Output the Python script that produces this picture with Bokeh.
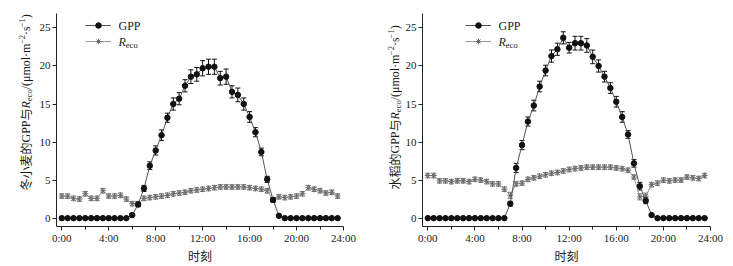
import math
from bokeh.plotting import figure
from bokeh.models import (ColumnDataSource, Whisker, TeeHead, FixedTicker, Range1d,
                          Legend, LegendItem, Label)
from bokeh.layouts import row
from bokeh.embed import file_html
from bokeh.resources import INLINE

# ---------------- data (half-hourly) ----------------
times = ["0:00", "0:30", "1:00", "1:30", "2:00", "2:30", "3:00", "3:30", "4:00", "4:30",
         "5:00", "5:30", "6:00", "6:30", "7:00", "7:30", "8:00", "8:30", "9:00", "9:30",
         "10:00", "10:30", "11:00", "11:30", "12:00", "12:30", "13:00", "13:30", "14:00", "14:30",
         "15:00", "15:30", "16:00", "16:30", "17:00", "17:30", "18:00", "18:30", "19:00", "19:30",
         "20:00", "20:30", "21:00", "21:30", "22:00", "22:30", "23:00", "23:30"]

wheat_gpp = [0, 0, 0, 0, 0, 0, 0, 0, 0, 0, 0, 0,
             0.4, 1.8, 3.9, 6.9, 8.9, 10.9, 13.2, 15.0, 15.7, 17.4, 18.6, 18.9, 19.7, 19.9,
             19.9, 18.4, 18.6, 16.6, 16.2, 15.0, 13.3, 11.3, 8.7, 5.1, 2.4, 0.3,
             0, 0, 0, 0, 0, 0, 0, 0, 0, 0]
wheat_gpp_err = [0, 0, 0, 0, 0, 0, 0, 0, 0, 0, 0, 0,
                 0.2, 0.3, 0.4, 0.5, 0.6, 0.7, 0.6, 0.8, 0.8, 0.8, 0.9, 0.9, 1.0, 1.0,
                 1.0, 0.9, 1.0, 0.8, 0.9, 0.8, 0.7, 0.6, 0.5, 0.4, 0.3, 0.1,
                 0, 0, 0, 0, 0, 0, 0, 0, 0, 0]
wheat_reco = [2.9, 2.9, 2.6, 2.5, 3.2, 2.6, 2.6, 3.6, 2.9, 2.9, 3.0, 2.5,
              1.9, 1.9, 2.6, 2.7, 2.8, 2.9, 3.0, 3.2, 3.3, 3.4, 3.6, 3.7, 3.8, 3.9,
              4.0, 4.1, 4.1, 4.1, 4.1, 4.1, 4.0, 3.9, 3.8, 3.6, 2.4, 2.8,
              2.7, 2.8, 2.9, 3.2, 4.0, 3.8, 3.6, 3.3, 3.4, 2.9]
wheat_reco_err = [0.3, 0.3, 0.3, 0.3, 0.3, 0.3, 0.3, 0.3, 0.3, 0.3, 0.3, 0.3,
                  0.3, 0.3, 0.3, 0.3, 0.3, 0.3, 0.3, 0.3, 0.3, 0.3, 0.3, 0.3, 0.3, 0.3,
                  0.3, 0.3, 0.3, 0.3, 0.3, 0.3, 0.3, 0.3, 0.3, 0.3, 0.3, 0.3,
                  0.3, 0.3, 0.3, 0.3, 0.3, 0.3, 0.3, 0.3, 0.3, 0.3]

rice_gpp = [0, 0, 0, 0, 0, 0, 0, 0, 0, 0, 0, 0, 0, 0,
            1.9, 6.6, 9.6, 12.7, 14.8, 17.3, 19.4, 21.3, 22.2, 23.7, 22.4, 23.0, 23.0,
            22.7, 21.2, 20.0, 18.6, 17.1, 15.3, 13.3, 11.0, 7.2, 4.2, 2.3, 0.4,
            0, 0, 0, 0, 0, 0, 0, 0, 0]
rice_gpp_err = [0, 0, 0, 0, 0, 0, 0, 0, 0, 0, 0, 0, 0, 0,
                0.3, 0.6, 0.6, 0.6, 0.7, 0.7, 0.7, 0.8, 0.8, 0.8, 0.7, 0.9, 0.9,
                0.9, 0.9, 0.8, 0.7, 0.7, 0.7, 0.7, 0.5, 0.5, 0.5, 0.4, 0.1,
                0, 0, 0, 0, 0, 0, 0, 0, 0]
rice_reco = [5.6, 5.6, 4.9, 4.9, 4.8, 4.9, 4.9, 4.8, 5.1, 5.0, 4.8, 4.5, 4.5, 3.8,
             3.0, 4.5, 4.6, 5.1, 5.3, 5.5, 5.7, 5.9, 6.0, 6.2, 6.4, 6.5, 6.6,
             6.7, 6.7, 6.7, 6.7, 6.7, 6.6, 6.5, 6.3, 5.4, 2.8, 2.9,
             4.4, 4.6, 5.0, 4.9, 5.0, 5.0, 5.4, 5.3, 5.2, 5.6]
rice_reco_err = [0.3, 0.3, 0.3, 0.3, 0.3, 0.3, 0.3, 0.3, 0.3, 0.3, 0.3, 0.3, 0.3, 0.3,
                 0.4, 0.3, 0.3, 0.3, 0.3, 0.3, 0.3, 0.3, 0.3, 0.3, 0.3, 0.3, 0.3,
                 0.3, 0.3, 0.3, 0.3, 0.3, 0.3, 0.3, 0.3, 0.3, 0.4, 0.4,
                 0.3, 0.3, 0.3, 0.3, 0.3, 0.3, 0.3, 0.3, 0.3, 0.3]

x_tick_hours = [0, 4, 8, 12, 16, 20, 24]
x_tick_labels = ["0:00", "4:00", "8:00", "12:00", "16:00", "20:00", "24:00"]
x_minor_hours = [2, 6, 10, 14, 18, 22]
y_ticks = [0, 5, 10, 15, 20, 25]

x_label = "时刻"
crop_names = ["冬小麦的", "水稻的"]

LATIN = "Liberation Serif"
CJK = "Noto Sans CJK SC"
TXT = "#1a1a1a"
H = 266

# Times / Liberation Serif advance widths (em)
W_REG = {"G": .722, "P": .556, "/": .278, "(": .333, ")": .333, "μ": .576, "m": .778,
         "o": .5, "l": .278, "·": .25, "s": .389, "e": .444, "c": .444, "−": .564,
         "2": .5, "1": .5, "R": .667}
W_IT = {"R": .611, "e": .444, "c": .444, "o": .5}


def text_width(txt, size, kind):
    if kind == "cjk":
        return len(txt) * size
    table = W_IT if kind == "i" else W_REG
    return sum(table.get(ch, .5) for ch in txt) * size


def to_hours(t):
    h, m = t.split(":")
    return int(h) + int(m) / 60.0


def rich_text(p, segments, x0, y0, vertical, main=12, small=8.5):
    """Place a string of mixed-style segments (screen units, relative to frame)."""
    cur = 0.0
    for txt, kind in segments:
        size = small if kind in ("sub", "sup") else main
        font = CJK if kind == "cjk" else LATIN
        style = "italic" if kind == "i" else "normal"
        wkind = "i" if kind == "i" else ("cjk" if kind == "cjk" else "n")
        shift = 0.0
        if kind == "sub":
            shift = -3.0
        elif kind == "sup":
            shift = 4.0
        if vertical:
            lx, ly, ang = x0 - shift, y0 + cur, math.pi / 2
        else:
            lx, ly, ang = x0 + cur, y0 + shift, 0
        p.add_layout(Label(x=lx, y=ly, x_units="screen", y_units="screen", text=txt,
                           angle=ang, text_font=font, text_font_size=f"{size}px",
                           text_font_style=style, text_align="left",
                           text_baseline="middle", text_color=TXT))
        cur += text_width(txt, size, wkind)


def label_strip(crop, width, xc, y_start):
    """Narrow canvas that carries the rotated y-axis title."""
    s = figure(width=width, height=H, output_backend="svg", toolbar_location=None,
               x_range=Range1d(0, 1), y_range=Range1d(0, 1), min_border=0,
               x_axis_type=None, y_axis_type=None)
    s.grid.visible = False
    s.outline_line_color = None
    rich_text(s, [(crop, "cjk"), ("GPP", "n"), ("与", "cjk"), ("R", "i"), ("eco", "sub"),
                  ("/(μmol·m", "n"), ("−2", "sup"), ("·s", "n"), ("−1", "sup"), (")", "n")],
              xc, y_start, True)
    return s


def make_panel(gpp, gpp_err, reco, reco_err, width, bl, br, leg_x):
    hrs = [to_hours(t) for t in times]
    p = figure(width=width, height=H, output_backend="svg", toolbar_location=None,
               x_range=Range1d(-0.45, 24.0), y_range=Range1d(-1.1, 26.9),
               min_border_left=bl, min_border_right=br, min_border_top=13,
               min_border_bottom=39)
    p.grid.visible = False
    p.outline_line_color = None
    p.background_fill_color = "white"

    src_r = ColumnDataSource(dict(x=hrs, y=reco,
                                  lo=[v - e for v, e in zip(reco, reco_err)],
                                  hi=[v + e for v, e in zip(reco, reco_err)]))
    keep = [i for i, e in enumerate(gpp_err) if e > 0]
    src_g = ColumnDataSource(dict(x=hrs, y=gpp))
    src_ge = ColumnDataSource(dict(x=[hrs[i] for i in keep],
                                   lo=[gpp[i] - gpp_err[i] for i in keep],
                                   hi=[gpp[i] + gpp_err[i] for i in keep]))

    # Reco
    r_line = p.line("x", "y", source=src_r, line_color="#9a9a9a", line_width=1)
    p.add_layout(Whisker(source=src_r, base="x", lower="lo", upper="hi",
                         line_color="#7a7a7a", line_width=1,
                         upper_head=TeeHead(size=5, line_color="#7a7a7a", line_width=1),
                         lower_head=TeeHead(size=5, line_color="#7a7a7a", line_width=1)))
    r_pts = p.scatter("x", "y", source=src_r, marker="asterisk", size=6,
                      line_color="#6a6a6a", line_width=1)

    # GPP
    g_line = p.line("x", "y", source=src_g, line_color="#555555", line_width=1)
    p.add_layout(Whisker(source=src_ge, base="x", lower="lo", upper="hi",
                         line_color="#111111", line_width=1,
                         upper_head=TeeHead(size=5, line_color="#111111", line_width=1),
                         lower_head=TeeHead(size=5, line_color="#111111", line_width=1)))
    g_pts = p.scatter("x", "y", source=src_g, marker="circle", size=5.5,
                      fill_color="#111111", line_color="#111111")

    # axes
    xa = p.xaxis[0]
    xa.ticker = FixedTicker(ticks=x_tick_hours, minor_ticks=x_minor_hours)
    xa.major_label_overrides = {h: l for h, l in zip(x_tick_hours, x_tick_labels)}
    xa.axis_label = x_label
    xa.axis_label_text_font = CJK
    xa.axis_label_text_font_style = "normal"
    xa.axis_label_text_font_size = "12px"
    xa.axis_label_text_color = TXT
    xa.axis_label_standoff = 0
    xa.major_label_standoff = 1
    ya = p.yaxis[0]
    ya.ticker = FixedTicker(ticks=y_ticks, minor_ticks=[])
    ya.major_label_standoff = 2
    for ax in (xa, ya):
        ax.axis_line_color = "#222222"
        ax.major_tick_line_color = "#222222"
        ax.minor_tick_line_color = "#222222"
        ax.major_tick_out = 4
        ax.major_tick_in = 0
        ax.minor_tick_out = 3
        ax.minor_tick_in = 0
        ax.major_label_text_font = LATIN
        ax.major_label_text_font_size = "11px"
        ax.major_label_text_color = TXT

    # legend: glyph rows from Bokeh, texts as labels (for italic R with subscript)
    gw, stand = 26, 7
    legend = Legend(items=[LegendItem(label=" ", renderers=[g_line, g_pts]),
                           LegendItem(label=" ", renderers=[r_line, r_pts])],
                    location=(leg_x, 178), padding=0, margin=0, spacing=2,
                    glyph_width=gw, glyph_height=14, label_height=14, label_width=1,
                    label_standoff=0, border_line_color=None,
                    background_fill_alpha=0, label_text_font=LATIN,
                    label_text_font_size="1px", label_text_color=TXT)
    p.add_layout(legend)
    rich_text(p, [("GPP", "n")], leg_x + gw + stand, 201, False)
    rich_text(p, [("R", "i"), ("eco", "sub")], leg_x + gw + stand, 185, False)
    return p


s1 = label_strip(crop_names[0], 34, 25, 36)
p1 = make_panel(wheat_gpp, wheat_gpp_err, wheat_reco, wheat_reco_err,
                width=332, bl=22, br=23, leg_x=29)
s2 = label_strip(crop_names[1], 36, 28, 37)
p2 = make_panel(rice_gpp, rice_gpp_err, rice_reco, rice_reco_err,
                width=331, bl=19, br=23, leg_x=43)

layout = row(s1, p1, s2, p2)
open("out.html", "w").write(file_html(layout, INLINE))
